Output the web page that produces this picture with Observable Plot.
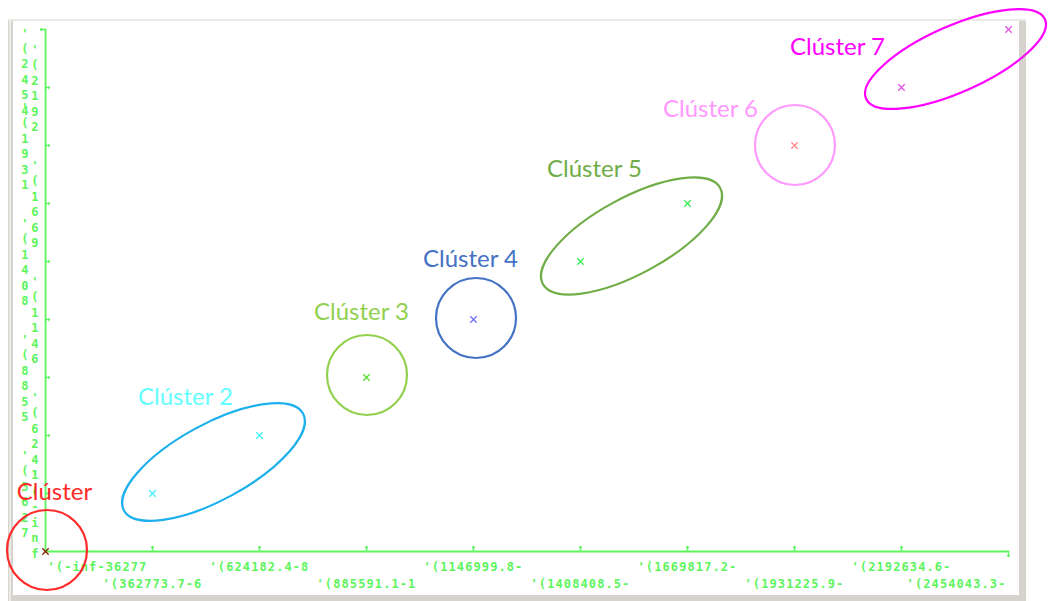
<!DOCTYPE html>
<html><head><meta charset="utf-8">
<script src="https://cdn.jsdelivr.net/npm/d3@7"></script>
<script src="https://cdn.jsdelivr.net/npm/@observablehq/plot@0.6"></script>
<style>
body{margin:0;background:#fff}
g[font-family^="DejaVu Sans Mono"] text{letter-spacing:1.1px}
</style>
</head><body><div id="chart"></div>
<script>
// X-axis bins (tick labels as shown, truncated by the plotting tool)
const xBins = ["'(-inf-36277", "'(362773.7-6", "'(624182.4-8", "'(885591.1-1", "'(1146999.8-",
               "'(1408408.5-", "'(1669817.2-", "'(1931225.9-", "'(2192634.6-", "'(2454043.3-"];
// Y-axis bins (tick labels as shown, stacked vertically)
const yBins = ["'(-inf", "'(3627", "'(6241", "'(8855", "'(1146", "'(1408", "'(1669", "'(1931", "'(2192", "'(2454"];
// Points: bin index on each axis and cluster assignment
const pointXIndex = [0, 1, 2, 3, 4, 5, 6, 7, 8, 9];
const pointYIndex = [0, 1, 2, 3, 4, 5, 6, 7, 8, 9];
const pointCluster = [1, 2, 2, 3, 4, 5, 5, 6, 7, 7];
// Clusters
const clusters = [1, 2, 3, 4, 5, 6, 7];
const clusterNames = ["Clúster", "Clúster 2", "Clúster 3", "Clúster 4", "Clúster 5", "Clúster 6", "Clúster 7"];
const labelColors = ["#ff2b2b", "#66ffff", "#92d050", "#4472c4", "#70ad47", "#ff99ff", "#ff00ff"];
const shapeColors = ["#ff2b2b", "#1cb0ec", "#92d050", "#4472c4", "#70ad47", "#ff99ff", "#ff00ff"];
const pointColors = ["#8b2500", "#44eeff", "#55dd33", "#7070ff", "#33ee55", "#ff8888", "#dd55dd"];
// Annotation layout (offsets in px relative to first member point)
const labelDx = [9, 33, -5, -3, 14, -84, -64];
const labelDy = [-59, -96, -65, -60, -92, -36, -40];
const shapeDx = [2, 8, 1, 3, -2, 1, 1];
const shapeDy = [-1, -2, -2, -1, 4, 0, 1];
const shapePadA = [0, 41, 0, 0, 40, 0, 37];
const shapeRy = [40, 38, 40, 40, 38, 40, 33];
const shapeAngleAdj = [0, 0, 0, 0, 0, 0, 4.5];

const green = "#5cf55c";
const points = pointXIndex.map((xi, k) => ({x: xBins[xi], y: yBins[pointYIndex[k]], c: pointCluster[k]}));

function panel(index, scales, values, dims) {
  const g = d3.create("svg:g");
  const L = dims.marginLeft - 35, T = dims.marginTop - 9;
  const R = dims.width - dims.marginRight + 16, B = dims.height;
  g.append("rect").attr("x", L).attr("y", T).attr("width", R - L).attr("height", B - T).attr("fill", "#d6d3cd");
  g.append("rect").attr("x", L + 1).attr("y", T).attr("width", 2).attr("height", B - T).attr("fill", "#ebebe8");
  g.append("rect").attr("x", L).attr("y", T).attr("width", R - L).attr("height", 2).attr("fill", "#e9e9e6");
  g.append("rect").attr("x", L + 5).attr("y", T + 2).attr("width", R - L - 12).attr("height", B - T - 8).attr("fill", "#fff");
  return g.node();
}

function shapes(index, scales) {
  const g = d3.create("svg:g").attr("fill", "none").attr("stroke-width", 2.2);
  clusters.forEach((c, ci) => {
    const m = points.filter(p => p.c === c).map(p => [scales.x(p.x), scales.y(p.y)]);
    const cx = d3.mean(m, d => d[0]) + shapeDx[ci];
    const cy = d3.mean(m, d => d[1]) + shapeDy[ci];
    if (m.length === 1) {
      g.append("circle").attr("cx", cx).attr("cy", cy).attr("r", shapeRy[ci]).attr("stroke", shapeColors[ci]);
    } else {
      const dx = m[1][0] - m[0][0], dy = m[1][1] - m[0][1];
      const ang = Math.atan2(dy, dx) * 180 / Math.PI + shapeAngleAdj[ci];
      const rx = Math.hypot(dx, dy) / 2 + shapePadA[ci];
      g.append("ellipse").attr("cx", cx).attr("cy", cy).attr("rx", rx).attr("ry", shapeRy[ci])
        .attr("transform", `rotate(${ang} ${cx} ${cy})`).attr("stroke", shapeColors[ci]);
    }
  });
  return g.node();
}

const mono = {fontFamily: "DejaVu Sans Mono", fontSize: 12, fontWeight: "bold", fill: green};
const last = xBins.length - 1;

const labelMarks = clusters.map((c, ci) => {
  const first = points.find(p => p.c === c);
  return Plot.text([first], {x: "x", y: "y", text: () => clusterNames[ci], dx: labelDx[ci], dy: labelDy[ci],
    fill: labelColors[ci], fontFamily: "Lato", fontSize: 24, textAnchor: "middle"});
});

const chart = Plot.plot({
  width: 1048, height: 601,
  marginLeft: 43, marginRight: 38, marginTop: 28, marginBottom: 50,
  x: {type: "point", domain: xBins, padding: 0, axis: null},
  y: {type: "point", domain: yBins, padding: 0, reverse: true, axis: null},
  color: {type: "identity"},
  style: {background: "transparent", overflow: "visible"},
  marks: [
    panel,
    // axis lines
    Plot.line([xBins[0], xBins[last]], {x: d => d, y: () => yBins[0], stroke: green, strokeWidth: 1.8}),
    Plot.line([yBins[0], yBins[last]], {x: () => xBins[0], y: d => d, stroke: green, strokeWidth: 1.8}),
    // ticks
    Plot.vector(xBins.slice(1, last), {x: d => d, y: () => yBins[0], length: 5, rotate: 0, anchor: "start", stroke: green, strokeWidth: 1.3}),
    Plot.vector([xBins[last]], {x: d => d, y: () => yBins[0], length: 5, rotate: 180, anchor: "start", stroke: green, strokeWidth: 1.3}),
    Plot.vector(yBins.slice(1, last), {x: () => xBins[0], y: d => d, length: 4, rotate: 90, anchor: "start", stroke: green, strokeWidth: 1.3}),
    Plot.vector([yBins[last]], {x: () => xBins[0], y: d => d, length: 5, rotate: -90, anchor: "start", stroke: green, strokeWidth: 1.3}),
    // x tick labels (alternating rows)
    Plot.text([xBins[0]], {x: d => d, y: () => yBins[0], dy: 16, dx: 2, textAnchor: "start", ...mono}),
    Plot.text(xBins, {filter: (d, i) => i > 0 && i < last && i % 2 === 0, x: d => d, y: () => yBins[0], dy: 16, textAnchor: "middle", ...mono}),
    Plot.text(xBins, {filter: (d, i) => i > 0 && i < last && i % 2 === 1, x: d => d, y: () => yBins[0], dy: 33, textAnchor: "middle", ...mono}),
    Plot.text([xBins[last]], {x: d => d, y: () => yBins[0], dy: 33, dx: -2, textAnchor: "end", ...mono}),
    // y tick labels (vertical, alternating columns)
    Plot.text([yBins[last]], {x: () => xBins[0], y: d => d, text: d => d.split("").join("\n"), dx: -20, dy: -3, lineAnchor: "top", lineHeight: 1.29, ...mono}),
    Plot.text(yBins, {filter: (d, i) => i > 0 && i < last && i % 2 === 1, x: () => xBins[0], y: d => d, text: d => d.split("").join("\n"), dx: -20, lineAnchor: "middle", lineHeight: 1.29, ...mono}),
    Plot.text(yBins, {filter: (d, i) => i > 0 && i % 2 === 0, x: () => xBins[0], y: d => d, text: d => d.split("").join("\n"), dx: -10, lineAnchor: "middle", lineHeight: 1.29, ...mono}),
    Plot.text([yBins[0]], {x: () => xBins[0], y: d => d, text: d => d.split("").join("\n"), dx: -10, dy: 6, lineAnchor: "bottom", lineHeight: 1.29, ...mono}),
    // cluster shapes
    shapes,
    // points
    Plot.dot(points, {x: "x", y: "y", symbol: "times", r: 3, stroke: d => pointColors[d.c - 1], strokeWidth: 1.3}),
    // cluster labels
    ...labelMarks
  ]
});
document.getElementById("chart").append(chart);
</script>
</body></html>
